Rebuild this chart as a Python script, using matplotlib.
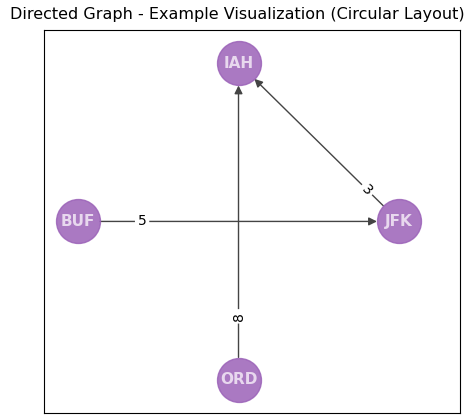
import numpy as np
import matplotlib.pyplot as plt
from matplotlib.patches import FancyArrowPatch

# nodes on a circular layout
nodes = ["JFK", "IAH", "BUF", "ORD"]
angles = [0, 90, 180, 270]
edges = [("BUF", "JFK"), ("ORD", "IAH"), ("JFK", "IAH")]
weights = [5, 8, 3]

pos = {n: (np.cos(np.radians(a)), np.sin(np.radians(a))) for n, a in zip(nodes, angles)}

fig = plt.figure(figsize=(4.74, 4.17), dpi=100)
ax = fig.add_axes([0.093, 0.01, 0.878, 0.918])

for (s, t), w in zip(edges, weights):
    x0, y0 = pos[s]
    x1, y1 = pos[t]
    ar = FancyArrowPatch((x0, y0), (x1, y1), arrowstyle='-|>', mutation_scale=12,
                         color='#444444', lw=1.0, shrinkA=16, shrinkB=16, zorder=1)
    ax.add_patch(ar)
    lx, ly = x0 + 0.2 * (x1 - x0), y0 + 0.2 * (y1 - y0)
    ang = np.degrees(np.arctan2(y1 - y0, x1 - x0))
    if ang > 90: ang -= 180
    if ang < -90: ang += 180
    ax.text(lx, ly, str(w), ha='center', va='center', rotation=ang, fontsize=10,
            bbox=dict(boxstyle='round,pad=0.2', fc='white', ec='none'), zorder=2)

for n in nodes:
    x, y = pos[n]
    ax.scatter([x], [y], s=1000, color='#9b62b8', alpha=0.85, edgecolors='#9b62b8', zorder=3)
    ax.text(x, y, n, ha='center', va='center', fontsize=11, fontweight='bold',
            color='#e8d8ee', zorder=4)

ax.set_xlim(-1.21, 1.38)
ax.set_ylim(-1.21, 1.21)
ax.set_xticks([])
ax.set_yticks([])
fig.text(0.5, 0.965, "Directed Graph - Example Visualization (Circular Layout)",
         ha='center', va='center', fontsize=11.5)
fig.savefig("out.png", dpi=100)
